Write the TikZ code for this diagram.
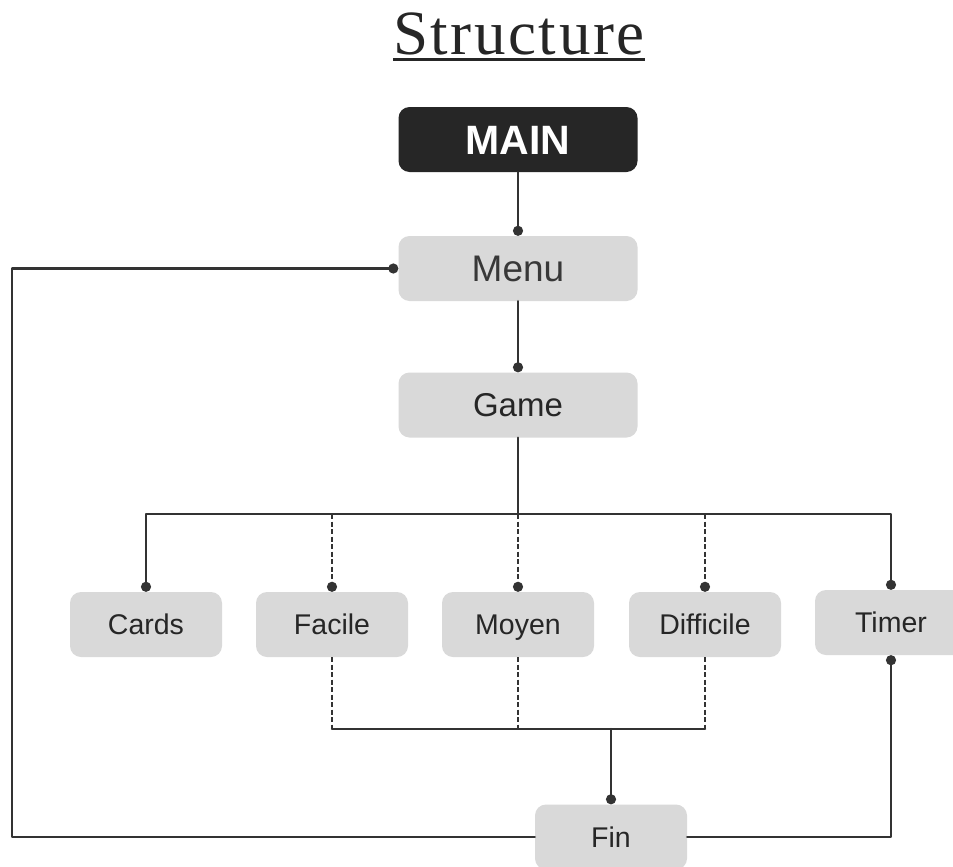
\documentclass[tikz,border=0pt]{standalone}
\usepackage{fontspec}
\setmainfont{Liberation Sans}
\newfontfamily\titlefont[LetterSpace=4]{Liberation Serif}
\usetikzlibrary{arrows.meta}
\usetikzlibrary{positioning}
\definecolor{boxgray}{HTML}{D9D9D9}
\definecolor{maindark}{HTML}{262626}
\definecolor{linegray}{HTML}{333333}

\begin{document}
\begin{tikzpicture}[line cap=round,line join=round,x=1pt,y=-1pt,
  box/.style={fill=boxgray,rounded corners=11pt,minimum width=152pt,minimum height=65pt,
    inner sep=0pt,text height=20.4pt,text depth=0pt,text=black!85,font=\fontsize{28.5}{30}\selectfont},
  widebox/.style={box,minimum width=239pt},
  link/.style={draw=linegray,line width=2.5pt},
  dotend/.style={link,-{Circle[length=10pt]}},
  dashlink/.style={line cap=butt,dash pattern=on 5pt off 2.5pt}]
\fill[white] (0,0) rectangle (953,867);
\useasboundingbox (0,0) rectangle (953,867);
\node[font=\titlefont\fontsize{63}{70}\selectfont,inner sep=0pt,anchor=base,text=black!85] (title) at (519,55) {Structure};
\draw[line width=3pt,black!85,line cap=butt] ([yshift=-5pt]title.base west) -- ([yshift=-5pt]title.base east);
\node[widebox,fill=maindark,text=white,text height=29.4pt,font=\bfseries\fontsize{41}{44}\selectfont] (main) at (518,139.5) {MAIN};
\node[widebox,text=black!78,text height=26.5pt,font=\fontsize{37}{40}\selectfont] (menu) at (518,268.5) {Menu};
\node[widebox,text height=23.6pt,font=\fontsize{33}{36}\selectfont] (game) at (518,405) {Game};
\node[box] (cards) at (146,624.5) {Cards};
\node[box] (facile) at (332,624.5) {Facile};
\node[box] (moyen) at (518,624.5) {Moyen};
\node[box] (difficile) at (705,624.5) {Difficile};
\node[box] (timer) at (891,622.5) {Timer};
\node[box] (fin) at (611,837) {Fin};
\coordinate (bus) at (518,514);
\coordinate (low) at (518,729);
\coordinate (loop) at (12,837);
\draw[dotend] (main) -- (menu);
\draw[dotend] (menu) -- (game);
\draw[link] (game) -- (bus);
\draw[dotend] (bus) -| (cards);
\draw[dotend] (bus) -| (timer);
\foreach \n in {facile,moyen,difficile}{
  \draw[dotend,dashlink] (\n |- bus) -- (\n);
  \draw[link,dashlink] (\n) -- (\n |- low);
}
\draw[link] (facile |- low) -- (difficile |- low);
\draw[dotend] (fin |- low) -- (fin);
\draw[dotend] (fin.west) -- (loop) |- (menu.west);
\draw[dotend] (fin.east) -| (timer.south);
\end{tikzpicture}
\end{document}
